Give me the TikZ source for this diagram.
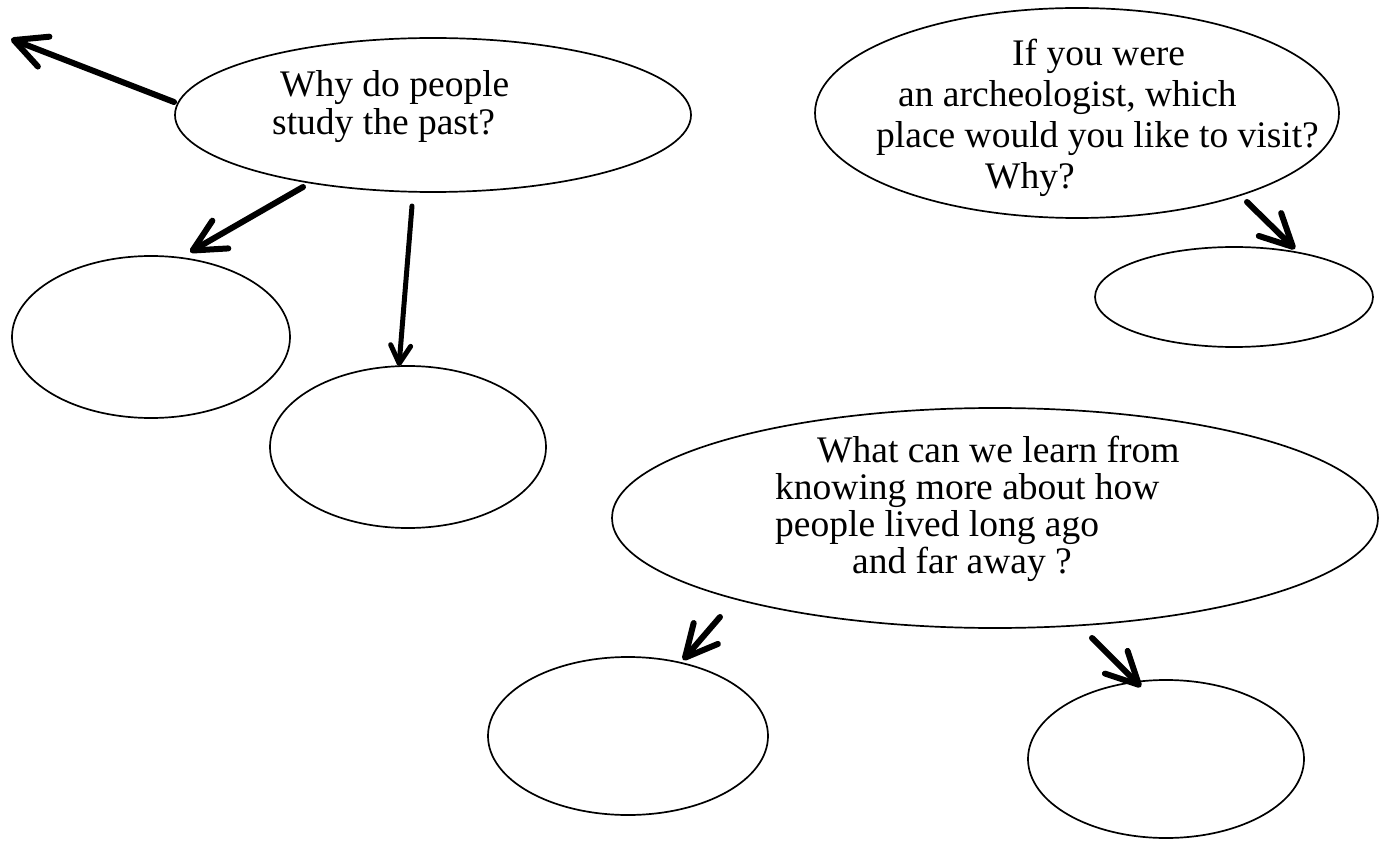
\documentclass[tikz,border=0pt]{standalone}
\usepackage{fontspec}
\setmainfont{Liberation Serif}
\usetikzlibrary{arrows.meta}

\tikzset{
  bubble/.style={draw=black, line width=1.7pt},
  txt/.style={anchor=base west, inner sep=0pt, font=\fontsize{37.5}{40}\selectfont},
  bigarrow/.style={line width=6pt, line cap=round,
    -{Straight Barb[length=32pt, width=32pt, round]}},
  smallarrow/.style={line width=5pt, line cap=round,
    -{Straight Barb[length=18pt, width=20pt, round]}}
}

\begin{document}
\begin{tikzpicture}[x=1pt, y=-1pt]
  \useasboundingbox (0,0) rectangle (1379,842);

  % question bubbles
  \draw[bubble] (433,115) ellipse [x radius=258, y radius=77];
  \draw[bubble] (1077,113) ellipse [x radius=262, y radius=105];
  \draw[bubble] (995,518) ellipse [x radius=383, y radius=110];

  % answer bubbles
  \draw[bubble] (1234,297) ellipse [x radius=139, y radius=50];
  \draw[bubble] (151,337) ellipse [x radius=139, y radius=81];
  \draw[bubble] (408,447) ellipse [x radius=138, y radius=81];
  \draw[bubble] (628,736) ellipse [x radius=140, y radius=79];
  \draw[bubble] (1166,759) ellipse [x radius=138, y radius=79];

  % question texts
  \node[txt] (t1a) at (280,97)  {Why do people};
  \node[txt] (t1b) at (272,135) {study the past?};

  \node[txt] (t2a) at (1012,66)  {If you were};
  \node[txt] (t2b) at (898,107)  {an archeologist, which};
  \node[txt] (t2c) at (876,148)  {place would you like to visit?};
  \node[txt] (t2d) at (985,189)  {Why?};

  \node[txt] (t3a) at (817,462) {What can we learn from};
  \node[txt] (t3b) at (775,499) {knowing more about how};
  \node[txt] (t3c) at (775,536) {people lived long ago};
  \node[txt] (t3d) at (852,573) {and far away ?};

  % arrow ends
  \coordinate (a1s) at (174,102);  \coordinate (a1e) at (11,39);
  \coordinate (a2s) at (303,187);  \coordinate (a2e) at (190,252);
  \coordinate (a3s) at (412,206);  \coordinate (a3e) at (399,366);
  \coordinate (a4s) at (1247,202); \coordinate (a4e) at (1295,249);
  \coordinate (a5s) at (720,617);  \coordinate (a5e) at (683,660);
  \coordinate (a6s) at (1092,638); \coordinate (a6e) at (1141,687);

  \draw[bigarrow] (a1s) -- (a1e);
  \draw[bigarrow] (a2s) -- (a2e);
  \draw[smallarrow] (a3s) -- (a3e);
  \draw[bigarrow] (a4s) -- (a4e);
  \draw[bigarrow] (a5s) -- (a5e);
  \draw[bigarrow] (a6s) -- (a6e);
\end{tikzpicture}
\end{document}
